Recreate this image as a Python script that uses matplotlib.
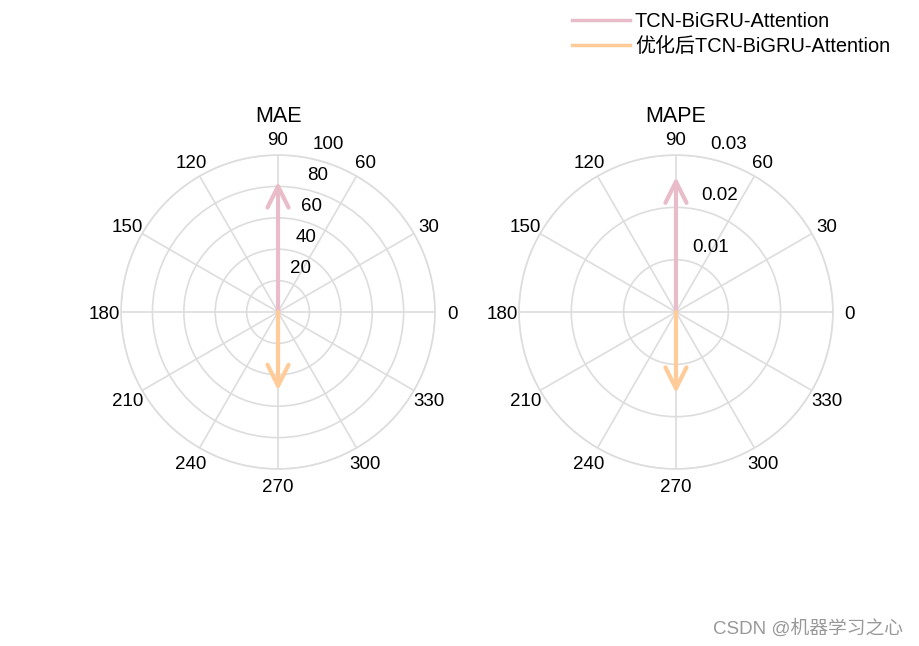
import numpy as np
import matplotlib
matplotlib.use('Agg')
import matplotlib.pyplot as plt

plt.rcParams['font.family'] = ['Liberation Sans', 'Noto Sans CJK SC', 'DejaVu Sans']
plt.rcParams['font.size'] = 13.5

# data
metrics = ['MAE', 'MAPE']
models = ['TCN-BiGRU-Attention', '优化后TCN-BiGRU-Attention']
colors = ['#E8BCC8', '#FFCC99']
angles_deg = [90, 270]
mae_vals = [83, 50]
mape_vals = [0.0258, 0.0155]
rmax = [100, 0.03]
rticks = [[20, 40, 60, 80, 100], [0.01, 0.02, 0.03]]
rtick_labels = [['20', '40', '60', '80', '100'], ['0.01', '0.02', '0.03']]
theta_ticks = np.arange(0, 360, 30)

fig = plt.figure(figsize=(9.19, 6.46), dpi=100)

positions = [[0.1317, 0.274, 0.3417, 0.486], [0.5647, 0.274, 0.3417, 0.486]]
values = [mae_vals, mape_vals]
px = 0.72  # points per pixel at 100 dpi

handles = []
for k in range(2):
    ax = fig.add_axes(positions[k], projection='polar')
    ax.set_ylim(0, rmax[k])
    ax.set_yticks(rticks[k])
    ax.set_yticklabels([])
    ax.set_thetagrids(theta_ticks, [''] * len(theta_ticks))
    ax.grid(color='#DDDDDD', linewidth=1.2)
    ax.spines['polar'].set_color('#DDDDDD')
    ax.spines['polar'].set_linewidth(1.2)
    ax.set_title(metrics[k], fontsize=15.5, y=1.08, pad=6)

    # angle labels
    for t in theta_ticks:
        th = np.deg2rad(t)
        ax.annotate(str(t), xy=(th, rmax[k]),
                    xytext=(17 * np.cos(th) * px, (17 * np.sin(th) - 2) * px),
                    textcoords='offset points', ha='center', va='center',
                    annotation_clip=False)
    # radius labels
    for r, lbl in zip(rticks[k], rtick_labels[k]):
        ax.annotate(lbl, xy=(np.deg2rad(80), r), xytext=(7 * px, 13 * px),
                    textcoords='offset points', ha='left', va='center',
                    annotation_clip=False)

    for i in range(2):
        th = np.deg2rad(angles_deg[i])
        ax.annotate('', xy=(th, values[k][i]), xytext=(th, 0),
                    arrowprops=dict(arrowstyle='->', color=colors[i], lw=3,
                                    mutation_scale=38, shrinkA=0, shrinkB=0))
        if k == 0:
            h, = ax.plot([], [], color=colors[i], lw=2.5, label=models[i])
            handles.append(h)

fig.legend(handles=handles, loc='upper right', bbox_to_anchor=(0.988, 1.01),
           frameon=False, fontsize=14.4, handlelength=2.9, handletextpad=0.25,
           labelspacing=0.3)

fig.text(0.983, 0.012, 'CSDN @机器学习之心', ha='right', va='bottom',
         color='#999999', fontsize=13.5)

fig.savefig('out.png', dpi=100)
